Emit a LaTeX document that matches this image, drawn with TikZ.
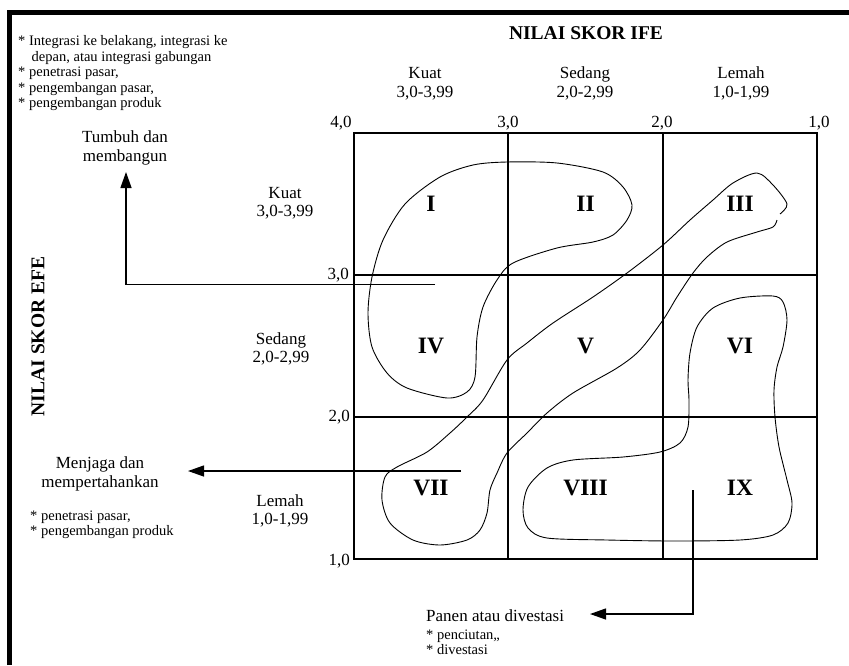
\documentclass[tikz,border=0pt]{standalone}
\usepackage{fontspec}
\setmainfont{Liberation Serif}
\usetikzlibrary{arrows.meta}
\begin{document}
\begin{tikzpicture}[x=1pt,y=-1pt,
  cell/.style={minimum width=154.33pt, minimum height=142pt, inner sep=0pt, font=\bfseries\fontsize{23.5}{25}\selectfont},
  gridline/.style={line width=1.6pt},
  lbl/.style={font=\fontsize{17}{18.5}\selectfont, align=center, inner sep=0pt},
  num/.style={font=\fontsize{17}{18.5}\selectfont, inner sep=0pt},
  small/.style={font=\fontsize{14.5}{15.5}\selectfont, inner sep=0pt, anchor=base west},
  ttl/.style={font=\bfseries\fontsize{19.5}{22}\selectfont, inner sep=0pt},
  curve/.style={line width=0.9pt},
  arr/.style={line width=1.3pt, -{Triangle[length=16pt,width=11pt]}}
]
\useasboundingbox (0,0) rectangle (849,665);
% border
\draw[line width=4.5pt, line join=miter] (9.5,665) -- (9.5,12.5) -- (849,12.5);

% grid
\draw[gridline] (354,133) rectangle (817,559);
\draw[gridline] (508,133) -- (508,559);
\draw[gridline] (663,133) -- (663,559);
\draw[gridline] (354,275) -- (817,275);
\draw[gridline] (354,417) -- (817,417);

% cell labels
\node[cell] (c1) at (431,204) {I};
\node[cell] (c2) at (585.5,204) {II};
\node[cell] (c3) at (740,204) {III};
\node[cell] (c4) at (431,346) {IV};
\node[cell] (c5) at (585.5,346) {V};
\node[cell] (c6) at (740,346) {VI};
\node[cell] (c7) at (431,488) {VII};
\node[cell] (c8) at (585.5,488) {VIII};
\node[cell] (c9) at (740,488) {IX};

% titles
\node[ttl, anchor=base] (ife) at (586,39) {NILAI SKOR IFE};
\node[ttl, rotate=90] (efe) at (38,336.5) {NILAI SKOR EFE};

% column labels
\node[lbl] (kuatT) at (425,83.5) {Kuat\\3,0-3,99};
\node[lbl] (sedangT) at (585,83.5) {Sedang\\2,0-2,99};
\node[lbl] (lemahT) at (741,83.5) {Lemah\\1,0-1,99};
\node[num, anchor=base] (t40) at (341,127) {4,0};
\node[num, anchor=base] (t30) at (508,127) {3,0};
\node[num, anchor=base] (t20) at (662,127) {2,0};
\node[num, anchor=base] (t10) at (819,127) {1,0};

% row labels
\node[lbl] (kuatL) at (285,203) {Kuat\\3,0-3,99};
\node[lbl] (sedangL) at (281,349) {Sedang\\2,0-2,99};
\node[lbl] (lemahL) at (280,511) {Lemah\\1,0-1,99};
\node[num, anchor=base east] (r30) at (349,279) {3,0};
\node[num, anchor=base east] (r20) at (350,421.5) {2,0};
\node[num, anchor=base east] (r10) at (350,565) {1,0};

% top-left strategy list
\node[small] (tl1) at (18,45.5) {* Integrasi ke belakang, integrasi ke};
\node[small] (tl2) at (31.5,61) {depan, atau integrasi gabungan};
\node[small] (tl3) at (18,76.5) {* penetrasi pasar,};
\node[small] (tl4) at (18,92) {* pengembangan pasar,};
\node[small] (tl5) at (18,107.5) {* pengembangan produk};

% outcome labels
\node[lbl] (tumbuh) at (125,148) {Tumbuh dan\\membangun};
\node[lbl] (menjaga) at (100,474) {Menjaga dan\\mempertahankan};
\node[small] (ml1) at (30,520) {* penetrasi pasar,};
\node[small] (ml2) at (30,535) {* pengembangan produk};
\node[lbl, anchor=base west] (panen) at (426,621.5) {Panen atau divestasi};
\node[small] (pl1) at (426,639.5) {* penciutan,,};
\node[small] (pl2) at (426,654) {* divestasi};

% arrows
\coordinate (a1s) at (435,284.5);
\coordinate (a1e) at (126,172);
\draw[arr] (a1s) -| (a1e);
\coordinate (a2s) at (461,471);
\coordinate (a2e) at (188,471);
\draw[arr] (a2s) -- (a2e);
\coordinate (a3s) at (693,490);
\coordinate (a3e) at (590,614);
\draw[arr] (a3s) |- (a3e);

% curves
\draw[curve] plot[smooth cycle] coordinates {(507,162) (557,163) (603,172) (623,187) (632,205) (627,220) (613,235) (593,242) (557,248) (513,263) (497,280) (483,307) (477,337) (475,377) (467,392) (447,398) (407,388) (387,373) (372,347) (368,313) (372,277) (383,240) (405,204) (440,177) (473,165)};
\draw[curve] plot[smooth] coordinates {(780,214) (787,204) (773,185) (757,173) (733,183) (713,200) (690,220) (663,245) (627,273) (593,297) (553,323) (527,343) (507,360) (483,400) (467,417) (450,433) (427,452) (397,467) (385,477) (382,500) (390,523) (413,540) (440,545) (467,540) (480,530) (487,513) (490,490) (497,473) (507,453) (527,433) (547,413) (573,393) (617,368) (640,350) (663,320) (677,297) (693,273) (707,257) (727,242) (757,232) (773,227) (777,220)};
\draw[curve] plot[smooth cycle] coordinates {(773,296) (783,302) (787,320) (783,347) (777,367) (774,390) (775,417) (779,447) (787,480) (792,503) (788,523) (773,535) (740,540) (673,541) (607,540) (547,538) (528,528) (523,510) (528,487) (547,468) (573,460) (623,457) (660,452) (680,443) (688,427) (689,400) (688,380) (690,353) (697,327) (713,308) (740,298)};
\end{tikzpicture}
\end{document}
